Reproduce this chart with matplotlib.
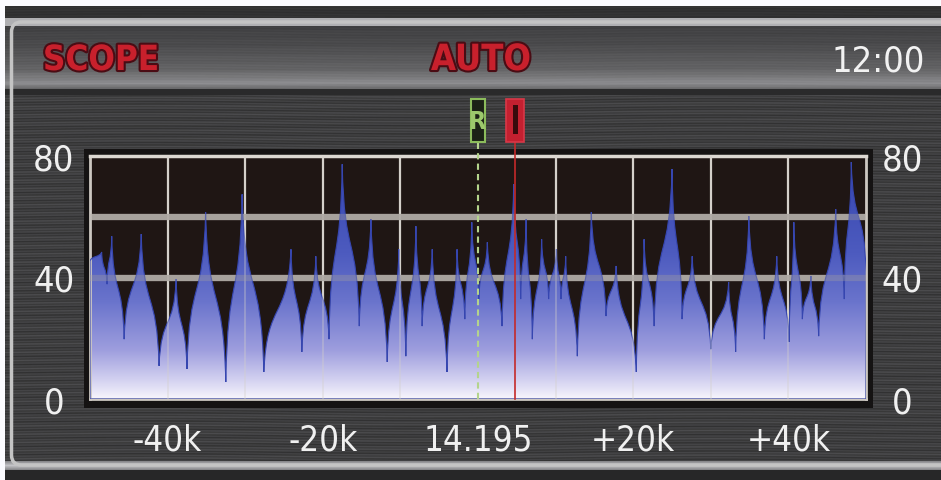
import numpy as np
import matplotlib
matplotlib.use("Agg")
from matplotlib import pyplot as plt
from matplotlib import patheffects as pe
from matplotlib import transforms as mtrans
from matplotlib import font_manager as fm
from matplotlib.colors import LinearSegmentedColormap
from matplotlib.patches import Rectangle, FancyBboxPatch, PathPatch
from matplotlib.path import Path

# spectrum outline: offset from centre (kHz) and level
freq_k = [-50.0, -48.5, -47.8, -47.2, -45.6, -43.4, -41.1, -38.9, -37.5, -35.1,
          -32.5, -30.4, -27.6, -24.1, -22.7, -20.9, -19.2, -17.5, -15.3, -13.8,
          -11.7, -10.2, -9.3, -8.0, -7.2, -5.9, -4.0, -2.7, -1.7, -0.8,
          0.1, 1.2, 3.1, 4.6, 5.5, 6.2, 7.0, 8.2, 9.1, 10.1,
          10.7, 11.3, 12.8, 14.6, 16.5, 17.8, 20.4, 21.4, 22.7, 25.0,
          26.3, 27.6, 30.0, 32.3, 33.2, 34.9, 36.9, 38.5, 40.1, 40.7,
          41.8, 42.9, 43.9, 46.1, 47.2, 48.1, 50.0]
level = [45.4, 48.4, 37.8, 53.6, 19.7, 54.3, 10.9, 39.5, 9.9, 61.5,
         5.6, 67.4, 8.9, 49.3, 15.5, 47.0, 19.7, 77.3, 24.0, 59.2,
         12.2, 49.3, 14.1, 56.9, 24.0, 49.3, 8.9, 49.3, 26.3, 58.2,
         32.9, 51.6, 24.0, 70.7, 32.9, 59.2, 19.7, 52.6, 32.9, 49.3,
         32.9, 47.0, 14.1, 61.5, 27.3, 43.8, 8.9, 52.6, 24.0, 75.7,
         26.3, 47.0, 16.4, 38.5, 15.5, 60.2, 19.7, 47.0, 18.8, 58.2,
         26.3, 40.5, 20.7, 62.5, 32.9, 78.0, 41.8]

x_ticks = [-40, -20, 0, 20, 40]
x_labels = ["-40k", "-20k", "14.195", "+20k", "+40k"]
y_ticks = [0, 40, 80]
grid_x = [-40, -30, -20, -10, 10, 20, 30, 40]
grid_y = [40, 60]
rx_pos = 0.0
tx_pos = 4.8

W, H = 941, 481


def condensed(bold=False):
    # the scope lettering is tall and narrow: use DejaVu Sans Condensed when present
    want = "DejaVuSansCondensed-Bold.ttf" if bold else "DejaVuSansCondensed.ttf"
    for f in fm.fontManager.ttflist:
        if f.fname.endswith(want):
            return fm.FontProperties(fname=f.fname)
    return fm.FontProperties(family="DejaVu Sans", weight="bold" if bold else "normal")


REG = condensed()
BOLD = condensed(bold=True)

fig = plt.figure(figsize=(W / 100, H / 100), dpi=100, facecolor="white")

# ---- brushed metal panel behind everything (pixel coords) ----
bg = fig.add_axes([0, 0, 1, 1])
bg.set_xlim(0, W)
bg.set_ylim(H, 0)
bg.axis("off")

yy, xx = np.mgrid[0:H, 0:W]
streak = 0.035 * np.sin(yy * 2.3 + 3 * np.sin(xx * 0.011)) + 0.02 * np.sin(yy * 0.77 + xx * 0.004)
shade = 0.25 + streak
shade[7:19] = 0.20 + 0.3 * streak[7:19]
shade[19:27] = 0.70
shade[27:90] = np.interp(np.arange(27, 90), [27, 45, 70, 84, 89], [0.26, 0.30, 0.40, 0.56, 0.42])[:, None] + 0.3 * streak[27:90]
shade[90:96] = 0.17
shade[462:471] = np.interp(np.arange(462, 471), [462, 466, 470], [0.55, 0.78, 0.55])[:, None]
shade[471:] = 0.16
shade[:7] = 1.0
shade[:, :5] = 1.0
metal = LinearSegmentedColormap.from_list("metal", ["#000000", "#fbfbff"])
bg.imshow(shade, cmap=metal, vmin=0, vmax=1, extent=(0, W, H, 0), aspect="auto",
          interpolation="bilinear", zorder=0)
bg.add_patch(FancyBboxPatch((11.5, 23), 960, 443, boxstyle="round,pad=0,rounding_size=10",
                            fc="none", ec="#c4c4c4", lw=2.5, zorder=1))
bg.add_patch(Rectangle((84, 150), 789, 259, fc="#151313", ec="none", zorder=1))

red_fx = [pe.withStroke(linewidth=3, foreground="#4a0c14")]
bg.text(101, 61, "SCOPE", ha="center", va="center", color="#c8202c", fontsize=25,
        fontproperties=BOLD, path_effects=red_fx, zorder=2)
bg.text(481, 61, "AUTO", ha="center", va="center", color="#c8202c", fontsize=26,
        fontproperties=BOLD, path_effects=red_fx, zorder=2)
bg.text(878, 61, "12:00", ha="center", va="center", color="#f2f2f2", fontsize=26,
        fontproperties=REG, zorder=2)

# ---- scope plot ----
ax = fig.add_axes([90 / W, 1 - 400 / H, (866 - 90) / W, (400 - 157) / H])
ax.set_facecolor("#1f1614")

for gx in grid_x:
    ax.axvline(gx, color="#d4d0ca", lw=1.6, zorder=1)
for gy in grid_y:
    ax.axhline(gy, color="#a7a29d", lw=4.5, zorder=1)

# trace: sharp spikes between the read vertices (cubic S-segments)
pts = list(zip(freq_k, level))
verts = [(pts[0][0], 0), pts[0]]
codes = [Path.MOVETO, Path.LINETO]
for (ax0, ay0), (bx0, by0) in zip(pts[:-1], pts[1:]):
    dx, dy = bx0 - ax0, by0 - ay0
    verts += [(ax0 + 0.12 * dx, ay0 + 0.6 * dy), (bx0 - 0.12 * dx, by0 - 0.6 * dy), (bx0, by0)]
    codes += [Path.CURVE4] * 3
verts += [(pts[-1][0], 0), (pts[0][0], 0)]
codes += [Path.LINETO, Path.CLOSEPOLY]
trace = Path(verts, codes)

scope_cmap = LinearSegmentedColormap.from_list(
    "scope", [(0, "#f7f5fc"), (0.08, "#d2d0f0"), (0.2, "#9e9ede"),
              (0.4, "#6a74cc"), (0.6, "#4d5bbf"), (1, "#3444ae")])
grad = np.linspace(0, 1, 256)[:, None]
im = ax.imshow(grad, cmap=scope_cmap, origin="lower", extent=(-50, 50, 0, 80),
               aspect="auto", zorder=2)
im.set_clip_path(trace, transform=ax.transData)
ax.add_patch(PathPatch(trace, fc="none", ec="#3646b0", lw=0.8, zorder=3))

# faint grid showing through the trace
for gx in grid_x:
    ax.axvline(gx, color="#d4d0ca", lw=1.4, alpha=0.35, zorder=4)
for gy in grid_y:
    ax.axhline(gy, color="#a7a29d", lw=4.5, alpha=0.35, zorder=4)

ax.set_xlim(-50, 50)
ax.set_ylim(0, 80)

# receive / transmit markers
trans = mtrans.blended_transform_factory(ax.transData, ax.transAxes)
ax.axvline(rx_pos, ymin=0, ymax=1.06, clip_on=False, color="#b4d48c", lw=1.5,
           ls=(0, (3, 2)), zorder=5)
ax.axvline(tx_pos, ymin=0, ymax=1.06, clip_on=False, color="#c42a2a", lw=1.2, zorder=5)
ax.add_patch(Rectangle((rx_pos - 0.95, 1.058), 1.9, 0.177, transform=trans, clip_on=False,
                       fc="#1c2216", ec="#8cbc5c", lw=1.5, zorder=5))
ax.text(rx_pos, 1.146, "R", transform=trans, ha="center", va="center", color="#9cc86c",
        fontsize=18, fontproperties=BOLD, zorder=6)
ax.add_patch(Rectangle((tx_pos - 1.15, 1.058), 2.3, 0.177, transform=trans, clip_on=False,
                       fc="#c42030", ec="#d83848", lw=1.2, zorder=5))
ax.add_patch(Rectangle((tx_pos - 0.35, 1.09), 0.7, 0.12, transform=trans, clip_on=False,
                       fc="#3a0a0c", ec="none", zorder=6))

for side in ["left", "right", "bottom"]:
    ax.spines[side].set_color("#cdc8c2")
    ax.spines[side].set_linewidth(2)
ax.spines["top"].set_color("#dcd8d2")
ax.spines["top"].set_linewidth(2.5)

ax.set_xticks(x_ticks)
ax.set_xticklabels(x_labels)
ax.set_yticks(y_ticks)
ax.tick_params(axis="x", length=0, pad=17, labelcolor="#f0f0f0")
ax.tick_params(axis="y", length=0, labelcolor="#f0f0f0",
               labelleft=True, labelright=True, pad=26)
for lbl in ax.get_xticklabels():
    lbl.set_fontproperties(REG)
    lbl.set_size(25)
for tick in ax.yaxis.get_major_ticks():
    for lbl in (tick.label1, tick.label2):
        lbl.set_fontproperties(REG)
        lbl.set_size(26)
        lbl.set_ha("center")

fig.savefig("out.png", dpi=100, facecolor="white")
